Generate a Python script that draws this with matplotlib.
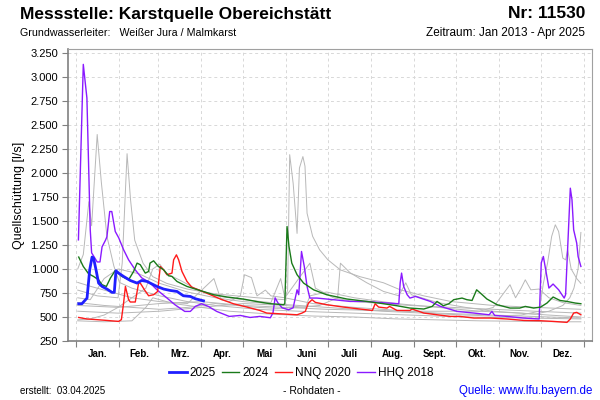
import matplotlib
matplotlib.use("Agg")
import matplotlib.pyplot as plt
from matplotlib.ticker import FixedLocator, FuncFormatter
from matplotlib.lines import Line2D

plt.rcParams['font.family'] = ['Liberation Sans', 'DejaVu Sans']

# ---------------- data (day of year, discharge l/s) ----------------
months = ["Jan.", "Feb.", "Mrz.", "Apr.", "Mai", "Juni", "Juli", "Aug.", "Sept.", "Okt.", "Nov.", "Dez."]
month_starts = [0, 31, 59, 90, 120, 151, 181, 212, 243, 273, 304, 334, 365]

y2025_d = [1.7, 4, 7.7, 9.6, 11.3, 12.4, 14.4, 16, 18.5, 22, 25.7, 27.3, 28.5, 30.4, 34, 38.8, 43.7, 47, 50.8, 54.5, 58, 62.8, 67.6, 72.4, 77, 82, 85.6, 90.4, 91.5]
y2025_v = [638, 638, 697, 990, 1124, 1113, 974, 853, 818, 791, 756, 756, 981, 957, 922, 880, 853, 880, 870, 843, 818, 791, 776, 766, 721, 714, 690, 672, 668]

y2024_d = [1.7, 5, 8.8, 12.4, 16, 18.5, 21.6, 24.5, 26.8, 28, 32.8, 37.6, 41.2, 43.7, 46, 49.6, 52, 53, 55.6, 59, 62.8, 66.4, 68.8, 72.4, 79.6, 89, 98.8, 108.4, 120, 132, 139.6, 149, 150, 151.6, 153, 155, 158.8, 163.5, 170.7, 180, 194.7, 209, 221, 230.7, 240, 250, 256, 259.5, 264, 268, 271.5, 277.5, 281, 284.7, 288, 292, 295.4, 302.7, 312, 319, 323, 329, 334, 338.6, 343, 348, 353, 359, 363]
y2024_v = [1124, 1026, 950, 922, 887, 836, 818, 905, 957, 984, 922, 887, 974, 1061, 1044, 957, 974, 1061, 1085, 1026, 991, 929, 922, 870, 818, 776, 732, 708, 687, 655, 638, 628, 638, 1442, 1234, 1061, 940, 853, 783, 732, 687, 662, 638, 617, 593, 583, 610, 662, 617, 638, 680, 697, 680, 672, 783, 732, 687, 628, 593, 593, 610, 593, 603, 645, 708, 672, 662, 645, 638]

nnq2020_d = [1.7, 7.7, 15, 22, 30.4, 32.4, 34, 35.3, 37.6, 38.8, 42.4, 44.8, 46, 49, 52, 55.6, 58.5, 60.4, 62.8, 65.2, 68.8, 70, 72, 73.6, 76, 79.6, 83, 89, 96.4, 103.6, 113, 122.8, 132, 137, 149, 158.8, 162.4, 164.7, 167, 169.6, 172, 180, 192.3, 204, 213, 215, 217.5, 223.5, 225.4, 230.7, 240, 241.5, 250, 259.5, 269, 276, 286, 298, 310, 322, 334, 343, 353, 355.4, 357.8, 360, 363]
nnq2020_v = [495, 479, 472, 464, 454, 472, 645, 818, 680, 656, 656, 853, 853, 783, 721, 732, 766, 1026, 991, 940, 957, 1095, 1147, 1095, 974, 870, 811, 776, 732, 687, 638, 603, 568, 541, 531, 523, 541, 558, 645, 680, 652, 628, 603, 583, 568, 638, 603, 593, 610, 568, 568, 583, 541, 523, 506, 506, 489, 489, 479, 464, 461, 454, 444, 479, 541, 548, 523]

hhq2018_d = [1.5, 5, 7.6, 10, 11, 15, 17, 18.5, 21, 22, 24, 25.5, 28, 30.5, 34, 37.6, 42.4, 47, 53, 58, 65, 71, 78, 82, 85.6, 90, 95, 101, 110, 118, 125, 132, 139.6, 141.5, 143, 145, 148, 152.7, 156, 158.8, 160, 162, 164, 166, 168, 173, 185, 197, 209, 221, 232, 233, 234, 235.5, 238, 240, 244, 247.5, 254.7, 262, 274, 286, 297, 299, 301, 310, 322, 333, 334.5, 336, 340, 343, 347, 351, 352, 355.4, 356.6, 357.8, 360, 361, 363]
hhq2018_v = [1303, 3130, 2780, 1408, 1168, 1073, 1073, 1230, 1300, 1335, 1598, 1598, 1390, 1324, 1200, 1095, 990, 908, 855, 783, 700, 627, 558, 558, 610, 638, 610, 558, 506, 516, 495, 506, 492, 545, 700, 648, 596, 575, 596, 783, 732, 1182, 1026, 818, 697, 697, 680, 662, 662, 648, 638, 855, 957, 818, 732, 697, 714, 697, 662, 610, 558, 541, 523, 558, 516, 506, 489, 479, 1064, 1130, 801, 843, 783, 697, 732, 1841, 1720, 1408, 1269, 1130, 1026]

grey_years = [
    ([1, 5, 9, 11, 15, 18, 22, 27, 31, 40, 50, 60, 80, 100, 130, 160, 200, 240, 280, 320, 363],
     [1000, 1150, 1700, 1450, 2400, 1900, 1340, 1030, 860, 800, 760, 720, 660, 620, 580, 560, 540, 520, 500, 490, 480]),
    ([1, 15, 30, 33, 36.5, 39, 42, 48, 55, 65, 80, 100, 130, 150, 152, 153.5, 156, 158.8, 160.5, 163, 164.5, 166, 170, 175, 181, 190, 204, 221, 233, 250, 270, 300, 330, 363],
     [780, 720, 700, 1060, 2200, 1720, 1300, 1060, 920, 850, 790, 740, 700, 680, 780, 2190, 1890, 1370, 2050, 2170, 2070, 1580, 1340, 1200, 1095, 990, 920, 856, 783, 720, 660, 620, 600, 580]),
    ([1, 20, 40, 60, 80, 100, 115, 130, 145, 160, 175, 188, 190, 197, 209, 221, 232, 237, 241, 260, 280, 300, 320, 340, 363],
     [650, 620, 600, 580, 600, 640, 620, 600, 590, 600, 620, 700, 1060, 960, 856, 766, 721, 856, 732, 650, 600, 560, 540, 520, 500]),
    ([1, 10, 20, 30, 45, 60, 80, 100, 120, 140, 160, 180, 200, 220, 250, 280, 300, 320, 333, 336, 339, 342, 344.6, 347, 350, 352, 353.5, 356, 360, 363],
     [700, 680, 900, 1000, 950, 850, 760, 700, 660, 640, 620, 600, 580, 560, 540, 520, 510, 520, 560, 850, 1060, 1340, 1460, 1390, 1113, 1095, 1200, 1000, 900, 850]),
    ([1, 30, 60, 90, 120, 150, 165, 168, 180, 200, 230, 260, 290, 320, 330, 340, 350, 355, 358, 361, 363],
     [560, 540, 560, 600, 640, 620, 600, 720, 760, 700, 640, 600, 560, 540, 530, 560, 620, 700, 800, 1000, 1380]),
    ([1, 30, 60, 90, 120, 150, 180, 210, 240, 270, 290, 300, 305, 312, 316, 320, 323, 327, 333, 340, 350, 363],
     [620, 600, 640, 660, 620, 600, 580, 570, 560, 560, 560, 600, 700, 836, 700, 800, 887, 783, 791, 700, 650, 620]),
    ([1, 10, 20, 30, 40, 50, 55, 60, 65, 75, 85, 100, 120, 140, 147, 150, 170, 200, 230, 260, 300, 340, 363],
     [470, 480, 520, 600, 700, 800, 1000, 1050, 950, 880, 800, 720, 680, 650, 900, 700, 640, 600, 570, 540, 520, 500, 490]),
    ([1, 20, 40, 50, 55, 70, 90, 110, 140, 170, 200, 230, 260, 290, 320, 350, 363],
     [460, 450, 460, 600, 700, 640, 600, 560, 530, 510, 500, 480, 470, 460, 455, 450, 450]),
    ([1, 10, 25, 40, 60, 80, 99, 104, 110, 118, 121, 126, 130, 136, 140, 150, 168, 172, 185, 200, 220, 240, 270, 300, 330, 363],
     [860, 820, 760, 700, 660, 640, 900, 680, 660, 720, 940, 910, 720, 780, 720, 700, 1060, 800, 700, 660, 640, 620, 600, 580, 560, 540]),
]

series_labels = ["2025", "2024", "NNQ 2020", "HHQ 2018"]
series_colors = ["#1f1fff", "#1a7a1a", "#ff1a1a", "#8a1aff"]

# ---------------- figure ----------------
fig = plt.figure(figsize=(6, 4), dpi=100)
ax = fig.add_axes([68 / 600, 1 - 341 / 400, (592 - 68) / 600, (341 - 49) / 400])

for gd, gv in grey_years:
    ax.plot(gd, gv, color="#b8b8b8", lw=0.7, zorder=2)

ax.plot(hhq2018_d, hhq2018_v, color=series_colors[3], lw=1.0, zorder=3)
ax.plot(nnq2020_d, nnq2020_v, color=series_colors[2], lw=1.0, zorder=3)
ax.plot(y2024_d, y2024_v, color=series_colors[1], lw=1.0, zorder=4)
ax.plot(y2025_d, y2025_v, color=series_colors[0], lw=2.0, zorder=5)

ax.set_xlim(-6, 371)
ax.set_ylim(250, 3290)

yticks = list(range(250, 3251, 250))
ax.yaxis.set_major_locator(FixedLocator(yticks))
ax.yaxis.set_major_formatter(FuncFormatter(lambda v, p: f"{int(v):,}".replace(",", ".")))
ax.xaxis.set_major_locator(FixedLocator(month_starts))
ax.xaxis.set_major_formatter(FuncFormatter(lambda v, p: ""))
mids = [(month_starts[i] + month_starts[i + 1]) / 2 for i in range(12)]
ax.set_xticks(mids, months, minor=True)
ax.tick_params(axis="x", which="minor", length=0, pad=6, labelsize=7)
for t in ax.get_xticklabels(minor=True):
    t.set_fontweight("bold")
ax.tick_params(axis="x", which="major", length=4, color="#808080")
ax.tick_params(axis="y", length=4, color="#808080", labelsize=8, pad=3)

ax.grid(True, which="major", color="#d8d8d8", linestyle=(0, (3, 3)), lw=0.7)
ax.set_axisbelow(True)
for s in ax.spines.values():
    s.set_color("#a0a0a0")
    s.set_linewidth(0.8)
ax.spines["left"].set_color("#808080")
ax.spines["bottom"].set_color("#808080")
ax.spines["left"].set_linewidth(1.2)
ax.spines["bottom"].set_linewidth(1.2)

ax.set_ylabel("Quellschüttung [l/s]", fontsize=9)
ax.yaxis.set_label_coords((25 - 68) / 524, 0.5)

# titles
fig.text(20 / 600, 1 - 14 / 400, "Messstelle: Karstquelle Obereichstätt", fontsize=12.5, fontweight="bold", va="center", ha="left")
fig.text(585 / 600, 1 - 14 / 400, "Nr: 11530", fontsize=12.5, fontweight="bold", va="center", ha="right")
fig.text(20 / 600, 1 - 33 / 400, "Grundwasserleiter:   Weißer Jura / Malmkarst", fontsize=7.7, va="center", ha="left")
fig.text(585 / 600, 1 - 33 / 400, "Zeitraum: Jan 2013 - Apr 2025", fontsize=8.5, va="center", ha="right")

# legend
handles = [Line2D([], [], color=c, lw=(2.0 if i == 0 else 1.0)) for i, c in enumerate(series_colors)]
fig.legend(handles, series_labels, loc="center", bbox_to_anchor=(301 / 600, 1 - 373 / 400), ncol=4,
           frameon=False, fontsize=8.5, handlelength=1.5, handletextpad=0.25, columnspacing=0.5)

# footer
fig.text(20 / 600, 1 - 391 / 400, "erstellt:  03.04.2025", fontsize=7, va="center", ha="left")
fig.text(312 / 600, 1 - 391 / 400, "- Rohdaten -", fontsize=7.5, va="center", ha="center")
fig.text(592 / 600, 1 - 391 / 400, "Quelle: www.lfu.bayern.de", fontsize=8.3, va="center", ha="right", color="#0000ff")

fig.savefig("out.png", dpi=100)
